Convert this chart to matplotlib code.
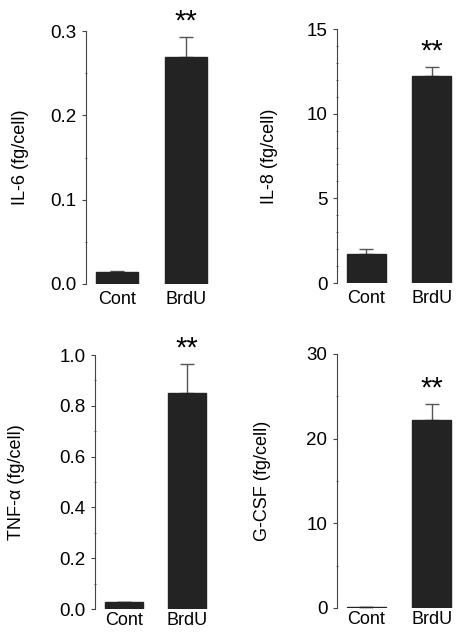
import matplotlib
matplotlib.use("Agg")
import matplotlib.pyplot as plt
from matplotlib.ticker import MultipleLocator

plt.rcParams['font.family'] = ['Liberation Sans', 'DejaVu Sans']

categories = ["Cont", "BrdU"]
il6 = [0.014, 0.269]
il6_err = [0.002, 0.024]
il8 = [1.7, 12.2]
il8_err = [0.3, 0.55]
tnf = [0.028, 0.85]
tnf_err = [0.0, 0.115]
gcsf = [0.1, 22.2]
gcsf_err = [0.0, 1.9]
ylabels = ["IL-6 (fg/cell)", "IL-8 (fg/cell)", "TNF-\u03b1 (fg/cell)", "G-CSF (fg/cell)"]
ymax = [0.3, 15, 1.0, 30]
major = [0.1, 5, 0.2, 10]
minor = [0.05, 1, 0.1, 5]
tickfmt = ["{:.1f}", "{:.0f}", "{:.1f}", "{:.0f}"]

W, H = 462, 633
fig = plt.figure(figsize=(W / 100, H / 100), dpi=100)

# pixel layout: left, top, bottom, width, label x, xtick pad
layout = [
    (86, 31, 284, 131, 29, 5),
    (337, 29, 283, 124, 278, 5),
    (95, 355, 609, 121, 25, 2),
    (337, 354, 608, 124, 271, 2),
]
vals = [il6, il8, tnf, gcsf]
errs = [il6_err, il8_err, tnf_err, gcsf_err]

for i in range(4):
    l, t, b, w, lx, xp = layout[i]
    ax = fig.add_axes([l / W, 1 - b / H, w / W, (b - t) / H])
    x = range(len(categories))
    ax.bar(x, vals[i], width=0.6, color="#232323", edgecolor="#232323", zorder=2)
    ax.errorbar(x, vals[i], yerr=[[0, 0], errs[i]], fmt="none", ecolor="#555555",
                elinewidth=1.0, capsize=5, capthick=1.0, zorder=1)
    ax.set_xlim(-0.45, 1.45)
    ax.set_ylim(0, ymax[i])
    for s in ["top", "right", "bottom"]:
        ax.spines[s].set_visible(False)
    ax.spines["left"].set_linewidth(0.8)
    ax.spines["left"].set_color("#444444")
    ax.yaxis.set_major_locator(MultipleLocator(major[i]))
    ax.yaxis.set_minor_locator(MultipleLocator(minor[i]))
    ticks = [k * major[i] for k in range(int(round(ymax[i] / major[i])) + 1)]
    ax.set_yticks(ticks)
    ax.set_yticklabels([tickfmt[i].format(v) for v in ticks])
    ax.tick_params(axis="y", which="major", length=3, width=0.8, direction="out",
                   labelsize=13.5, pad=4, color="#444444")
    ax.tick_params(axis="y", which="minor", length=2, width=0.6, direction="inout",
                   color="#444444")
    ax.set_xticks(list(x))
    ax.set_xticklabels(categories)
    ax.tick_params(axis="x", length=0, labelsize=13, pad=xp)
    ax.set_ylabel(ylabels[i], fontsize=13)
    ax.yaxis.set_label_coords((lx - l) / w, 0.5)
    top = vals[i][1] + errs[i][1]
    ax.annotate("**", xy=(1, top), xytext=(0, 1), textcoords="offset points",
                ha="center", va="bottom", fontsize=21)

fig.savefig("out.png", dpi=100)
